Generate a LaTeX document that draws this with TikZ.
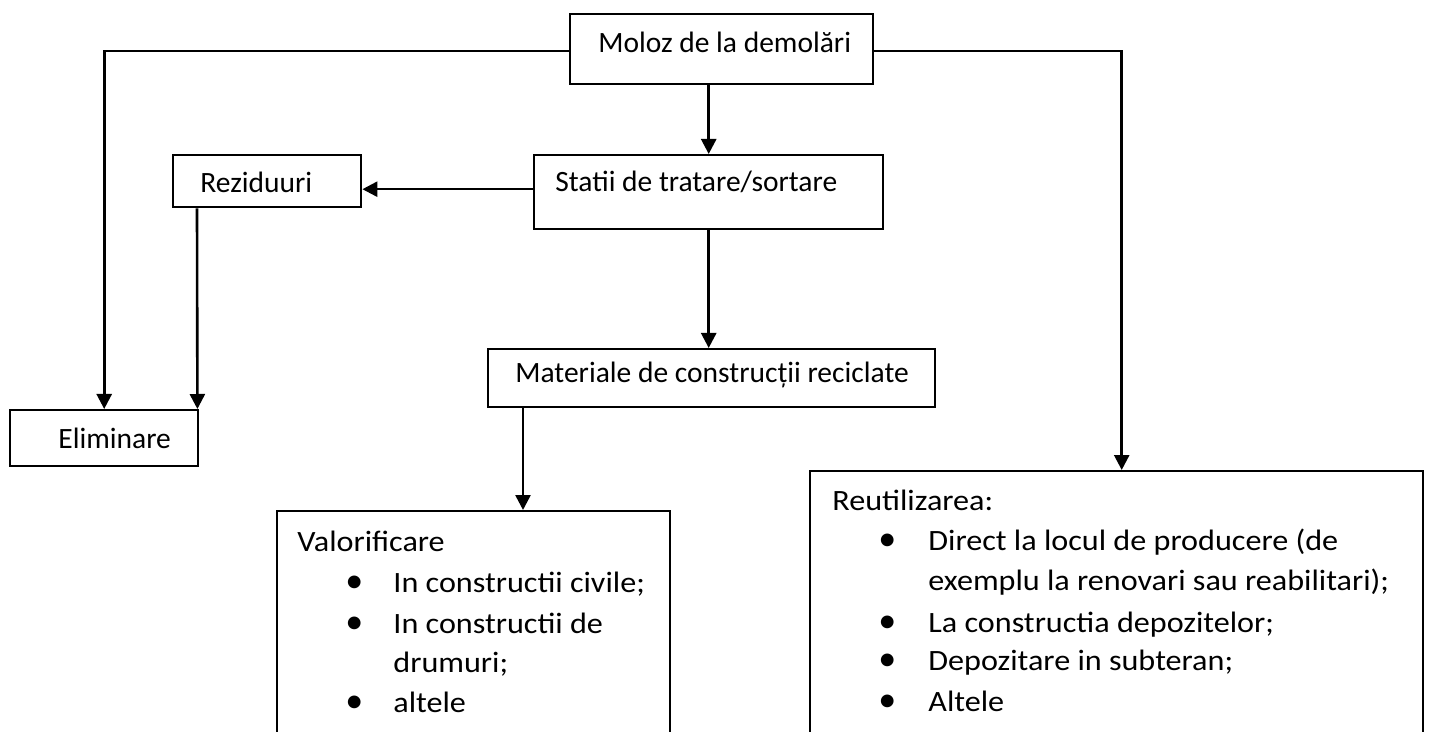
\documentclass[tikz,border=0pt]{standalone}
\usepackage{fontspec}
\setmainfont{Carlito}
\newfontfamily\listfont[FakeStretch=1.09]{Carlito}
\usetikzlibrary{arrows.meta}
\begin{document}
\begin{tikzpicture}[x=0.5pt,y=-0.5pt,
  box/.style={draw=black,line width=1.2pt,inner sep=0,anchor=north west},
  conn/.style={draw=black,line width=1.3pt,-{Triangle[length=7.5pt,width=7.5pt]}},
  txt/.style={anchor=base west,inner sep=0,font=\fontsize{14.75pt}{20pt}\selectfont},
  ltxt/.style={anchor=base west,inner sep=0,font=\listfont\fontsize{14.75pt}{20pt}\selectfont},
  bul/.style={anchor=base west,inner sep=0,font=\fontsize{18pt}{20pt}\selectfont}]
\useasboundingbox (0,0) rectangle (1434,732);
% boxes
\node[box,minimum width=151.5pt,minimum height=35pt] (moloz) at (569,13) {};
\node[box,minimum width=174.5pt,minimum height=37pt] (statii) at (533,154) {};
\node[box,minimum width=94pt,minimum height=26pt] (rez) at (172,154) {};
\node[box,minimum width=94pt,minimum height=28pt] (elim) at (9,409) {};
\node[box,minimum width=223.5pt,minimum height=29pt] (mat) at (487,348) {};
\node[box,minimum width=196.5pt,minimum height=125pt] (valor) at (276,510) {};
\node[box,minimum width=306.5pt,minimum height=145pt] (reut) at (809,470) {};
% texts
\node[txt] (tmoloz) at (598,53) {Moloz de la demolări};
\node[txt] (tstatii) at (555,192) {Statii de tratare/sortare};
\node[txt] (trez) at (200,193) {Reziduuri};
\node[txt] (telim) at (58,448) {Eliminare};
\node[txt] (tmat) at (515,383) {Materiale de construcții reciclate};
\node[ltxt] (tval) at (297,551) {Valorificare};
\node[bul] (vb1) at (345,592) {•};
\node[ltxt] (v1) at (393,592) {In constructii civile;};
\node[bul] (vb2) at (345,633) {•};
\node[ltxt] (v2) at (393,633) {In constructii de};
\node[ltxt] (v2b) at (393,672) {drumuri;};
\node[bul] (vb3) at (345,712) {•};
\node[ltxt] (v3) at (393,712) {altele};
\node[ltxt] (treut) at (832,510) {Reutilizarea:};
\node[bul] (rb1) at (878,550) {•};
\node[ltxt] (r1) at (928,550) {Direct la locul de producere (de};
\node[ltxt] (r1b) at (928,590) {exemplu la renovari sau reabilitari);};
\node[bul] (rb2) at (878,632) {•};
\node[ltxt] (r2) at (928,632) {La constructia depozitelor;};
\node[bul] (rb3) at (878,670) {•};
\node[ltxt] (r3) at (928,670) {Depozitare in subteran;};
\node[bul] (rb4) at (878,711) {•};
\node[ltxt] (r4) at (928,711) {Altele};
% connectors
\draw[conn] ([yshift=-1pt]moloz.west) -| (elim.north);
\draw[conn] ([yshift=-1pt]moloz.east) -| ([xshift=2.5pt]reut.north);
\draw[conn] (moloz.south -| statii.north) -- (statii.north);
\draw[conn] ([yshift=1.5pt]statii.west) -- ([yshift=1.5pt]statii.west -| rez.east);
\draw[conn] ([xshift=12.5pt]rez.south west) -- ([xshift=-1pt]elim.north east);
\draw[conn] (statii.south) -- (statii.south |- mat.north);
\draw[conn] ([xshift=18pt]mat.south west) -- ([xshift=18pt]mat.south west |- valor.north);
\end{tikzpicture}
\end{document}
